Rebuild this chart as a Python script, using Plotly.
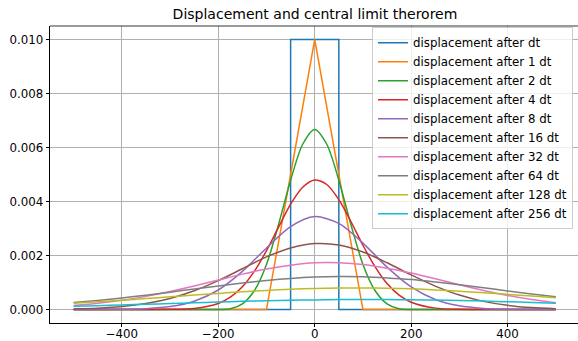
import plotly.graph_objects as go

# ---- data ----
labels = ["displacement after dt", "displacement after 1 dt", "displacement after 2 dt",
          "displacement after 4 dt", "displacement after 8 dt", "displacement after 16 dt",
          "displacement after 32 dt", "displacement after 64 dt", "displacement after 128 dt",
          "displacement after 256 dt"]
colors = ["#1f77b4", "#ff7f0e", "#2ca02c", "#d62728", "#9467bd",
          "#8c564b", "#e377c2", "#7f7f7f", "#bcbd22", "#17becf"]

x_dt = [-500, -50, -50, 50, 50, 500]
y_dt = [0, 0, 0.01, 0.01, 0, 0]

x_1dt = [-500, -100, 0, 100, 500]
y_1dt = [0, 0, 0.01, 0, 0]

x_2dt = [-500, -300, -200, -175, -150, -125, -100, -75, -50, -25, 0,
         25, 50, 75, 100, 125, 150, 175, 200, 300, 500]
y_2dt = [0, 0, 0, 0.000026, 0.000208, 0.000703, 0.00167, 0.00315, 0.00479, 0.00612, 0.00667,
         0.00612, 0.00479, 0.00315, 0.00167, 0.000703, 0.000208, 0.000026, 0, 0, 0]

x_4dt = [-500, -400, -300, -250, -200, -175, -150, -125, -100, -75, -50, -25, 0,
         25, 50, 75, 100, 125, 150, 175, 200, 250, 300, 400, 500]
y_4dt = [0, 0, 0.000005, 0.000041, 0.000224, 0.000455, 0.000842, 0.00142, 0.00218, 0.00305,
         0.0039, 0.00453, 0.0048, 0.00463, 0.00407, 0.00326, 0.00238, 0.00159, 0.00096,
         0.00053, 0.00027, 0.000051, 0.000007, 0, 0]

x_8dt = [-500, -400, -350, -300, -250, -200, -150, -100, -50, 0,
         50, 100, 150, 200, 250, 300, 350, 400, 450, 500]
y_8dt = [0, 0.000008, 0.000032, 0.000108, 0.000307, 0.000722, 0.00141, 0.00228, 0.00307,
         0.00344, 0.00319, 0.00246, 0.00157, 0.000837, 0.00037, 0.000135, 0.000041,
         0.00001, 0.000002, 0]

x_wide = [-500, -450, -400, -350, -300, -250, -200, -150, -100, -50, 0,
          50, 100, 150, 200, 250, 300, 350, 400, 450, 500]
y_16dt = [0.00002, 0.000049, 0.000108, 0.000221, 0.00041, 0.000695, 0.00107, 0.00151,
          0.00195, 0.00228, 0.00244, 0.00239, 0.00213, 0.00173, 0.00128, 0.000866,
          0.000534, 0.000301, 0.000154, 0.000072, 0.000031]
y_32dt = [0.000146, 0.000228, 0.00034, 0.000486, 0.000665, 0.000871, 0.00109, 0.00131,
          0.0015, 0.00164, 0.00173, 0.001734, 0.00167, 0.00153, 0.00135, 0.00114,
          0.000914, 0.000705, 0.00052, 0.000367, 0.000248]
y_64dt = [0.000259, 0.000337, 0.000428, 0.000531, 0.000643, 0.000759, 0.000873, 0.000981,
          0.001075, 0.00115, 0.0012, 0.00122, 0.00121, 0.00117, 0.00111, 0.00102,
          0.000918, 0.000805, 0.000689, 0.000575, 0.000468]
y_128dt = [0.000233, 0.000285, 0.000342, 0.000404, 0.000468, 0.000533, 0.000596, 0.000655,
           0.000706, 0.000749, 0.000779, 0.000796, 0.0008, 0.000788, 0.000764, 0.000726,
           0.000679, 0.000623, 0.000561, 0.000497, 0.000432]
y_256dt = [0.00012, 0.000143, 0.000168, 0.000195, 0.000222, 0.00025, 0.000276, 0.000301,
           0.000323, 0.000342, 0.000356, 0.000366, 0.00037, 0.000368, 0.000361, 0.000349,
           0.000333, 0.000312, 0.000288, 0.000263, 0.000235]

series = [
    (x_dt, y_dt, "linear"),
    (x_1dt, y_1dt, "linear"),
    (x_2dt, y_2dt, "spline"),
    (x_4dt, y_4dt, "spline"),
    (x_8dt, y_8dt, "spline"),
    (x_wide, y_16dt, "spline"),
    (x_wide, y_32dt, "spline"),
    (x_wide, y_64dt, "spline"),
    (x_wide, y_128dt, "spline"),
    (x_wide, y_256dt, "spline"),
]

fig = go.Figure()
for (xs, ys, shape), name, col in zip(series, labels, colors):
    fig.add_trace(go.Scatter(
        x=xs, y=ys, mode="lines", name=name,
        line=dict(color=col, width=1.5, shape=shape, smoothing=0.8 if shape == "spline" else None),
    ))

font = "DejaVu Sans, Arial, sans-serif"
tick_size = 11.8
fig.update_layout(
    width=578, height=341,
    margin=dict(l=50, r=0, t=26, b=18),
    paper_bgcolor="white", plot_bgcolor="white",
    font=dict(family=font, size=tick_size, color="black"),
    title=dict(text="Displacement and central limit therorem",
               x=(315 / 578), xanchor="center", xref="container",
               y=1 - 14.5 / 341, yanchor="middle", yref="container",
               font=dict(family=font, size=14, color="black")),
    showlegend=True,
    legend=dict(x=0.9905, xanchor="right", y=0.996, yanchor="top",
                bgcolor="rgba(255,255,255,0.8)", bordercolor="#cccccc", borderwidth=1,
                font=dict(family=font, size=tick_size, color="black")),
    xaxis=dict(range=[-549, 546], tickvals=[-400, -200, 0, 200, 400],
               automargin=False, ticklabelstandoff=-4,
               showgrid=True, gridcolor="#b0b0b0", gridwidth=0.8, zeroline=False,
               showline=True, linecolor="black", linewidth=0.8,
               ticks="outside", ticklen=3.5, tickwidth=0.8, tickcolor="black",
               tickfont=dict(family=font, size=tick_size, color="black")),
    yaxis=dict(range=[-0.0005, 0.0105], tickvals=[0, 0.002, 0.004, 0.006, 0.008, 0.010],
               tickformat=".3f", automargin=False,
               showgrid=True, gridcolor="#b0b0b0", gridwidth=0.8, zeroline=False,
               showline=True, linecolor="black", linewidth=0.8,
               ticks="outside", ticklen=3.5, tickwidth=0.8, tickcolor="black",
               tickfont=dict(family=font, size=tick_size, color="black")),
    shapes=[dict(type="line", xref="paper", yref="paper", x0=0, x1=1, y0=1, y1=1,
                 line=dict(color="black", width=0.8))],
)

fig.write_html("out.html")
